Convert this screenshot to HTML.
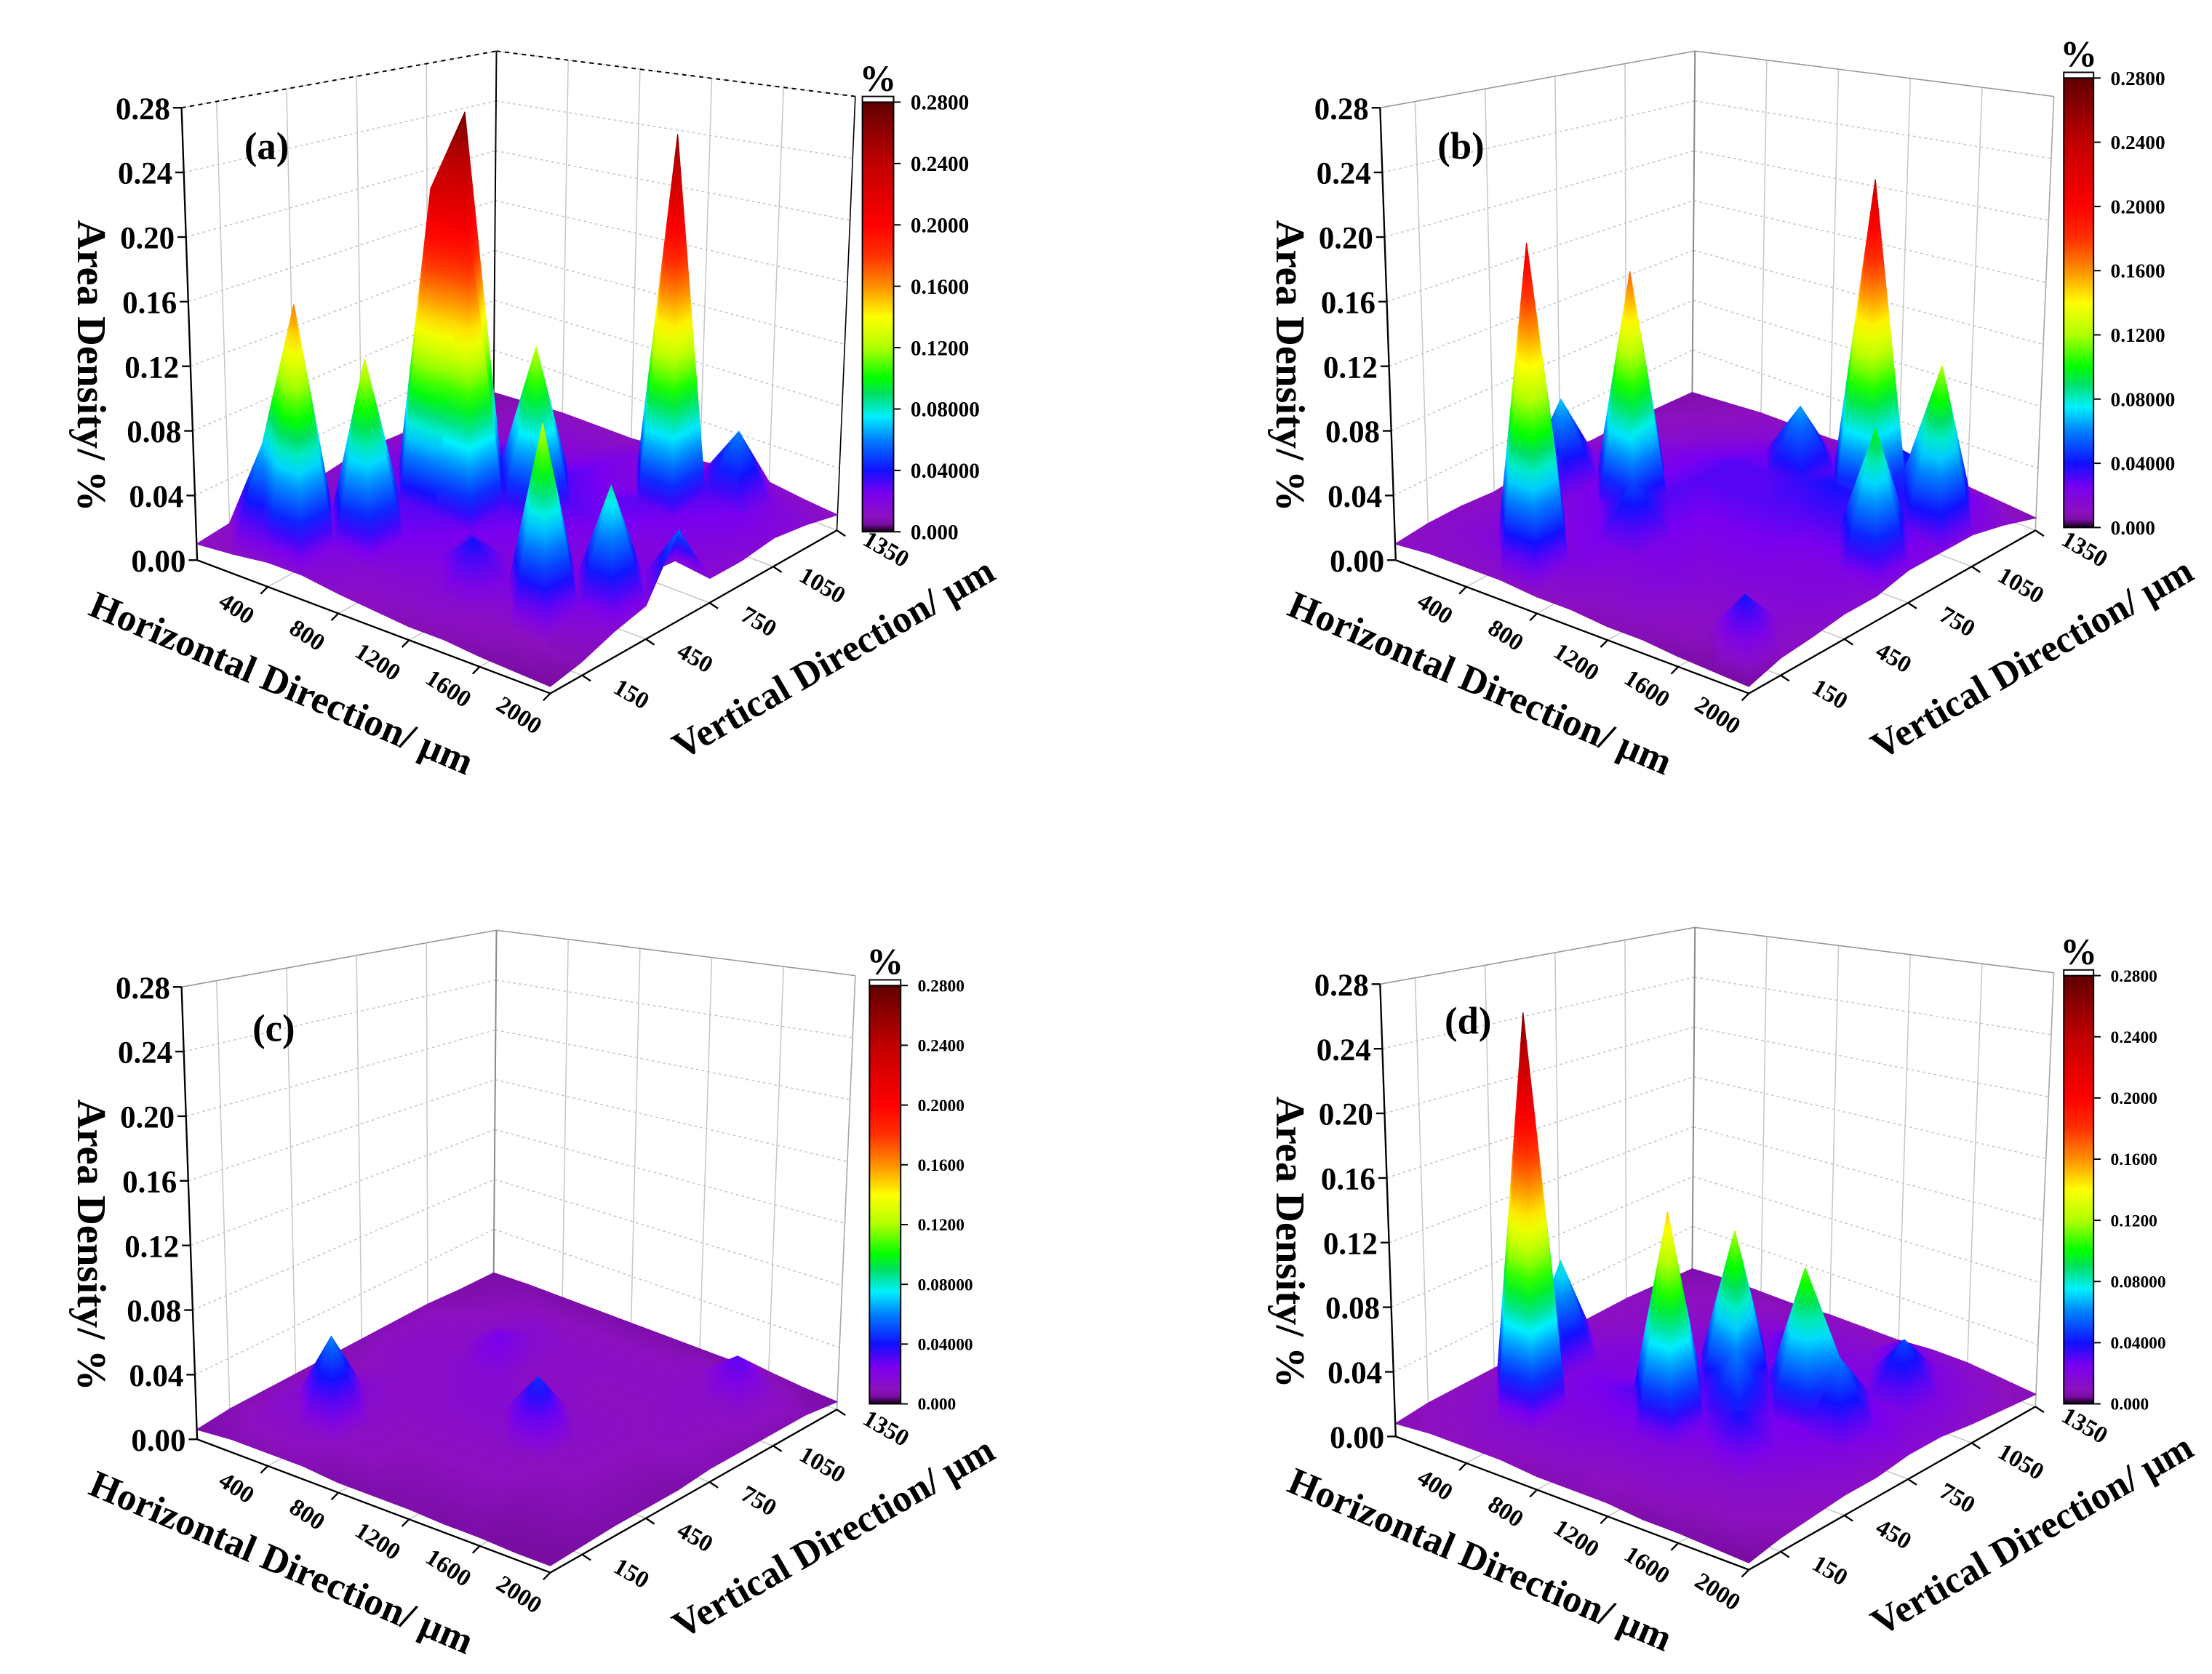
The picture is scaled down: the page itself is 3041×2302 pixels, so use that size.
<!DOCTYPE html>
<html><head><meta charset="utf-8"><style>
html,body{margin:0;padding:0;background:#fff;}
svg{display:block;}
text{font-family:"Liberation Serif",serif;font-weight:bold;fill:#000;}
</style></head><body>
<svg id="chart" xmlns="http://www.w3.org/2000/svg" width="3041" height="2302" viewBox="0 0 1559.5 1180.5">
<defs id="defs"></defs>
<rect x="0" y="0" width="1559.5" height="1180.5" fill="#fff"/>
</svg>
<script>
const hVals=[0,200,400,600,800,1000,1200,1400,1600,1800,2000];
const vVals=[0,150,300,450,600,750,900,1050,1200,1350];
const zTicks=[0,0.04,0.08,0.12,0.16,0.20,0.24,0.28];
const zTickLabels=["0.00","0.04","0.08","0.12","0.16","0.20","0.24","0.28"];
const hTicks=[400,800,1200,1600,2000];
const vTicks=[150,450,750,1050,1350];
const cbTicks=[0,0.04,0.08,0.12,0.16,0.20,0.24,0.28];
const cbTickLabels=["0.000","0.04000","0.08000","0.1200","0.1600","0.2000","0.2400","0.2800"];
const dataA=[
[.010,.012,.015,.010,.012,.015,.012,.010,.008,.006],
[.012,.070,.020,.015,.018,.020,.015,.012,.010,.008],
[.015,.165,.025,.020,.025,.030,.020,.015,.012,.010],
[.015,.020,.130,.030,.225,.270,.030,.020,.015,.010],
[.012,.015,.025,.030,.215,.040,.025,.020,.015,.010],
[.010,.015,.020,.025,.030,.125,.030,.025,.020,.012],
[.008,.015,.040,.020,.025,.030,.025,.020,.018,.012],
[.008,.012,.020,.018,.020,.025,.030,.260,.025,.015],
[.006,.010,.125,.020,.018,.020,.025,.030,.060,.015],
[.005,.010,.020,.085,.020,.018,.020,.025,.020,.012],
[.004,.008,.015,.020,.055,.015,.015,.018,.015,.010]];
const dataB=[
[.010,.012,.012,.010,.012,.012,.010,.010,.008,.006],
[.012,.015,.015,.015,.070,.020,.015,.012,.010,.008],
[.012,.018,.020,.020,.025,.025,.020,.015,.012,.010],
[.012,.210,.020,.025,.170,.025,.025,.020,.015,.010],
[.010,.020,.025,.050,.030,.030,.030,.025,.015,.010],
[.010,.015,.020,.025,.025,.030,.030,.065,.020,.012],
[.008,.015,.020,.020,.025,.030,.035,.030,.025,.012],
[.008,.012,.015,.020,.025,.030,.040,.230,.040,.015],
[.006,.012,.015,.018,.020,.030,.035,.045,.035,.012],
[.005,.040,.015,.018,.020,.100,.030,.120,.025,.010],
[.004,.010,.012,.015,.015,.020,.020,.020,.015,.008]];
const dataC=[
[.006,.008,.008,.008,.008,.008,.008,.008,.006,.005],
[.008,.012,.015,.012,.010,.012,.012,.010,.008,.006],
[.008,.012,.060,.015,.012,.012,.012,.012,.010,.006],
[.008,.010,.012,.012,.012,.015,.025,.015,.010,.006],
[.006,.010,.010,.012,.015,.015,.012,.012,.010,.006],
[.006,.008,.010,.012,.015,.012,.012,.012,.010,.006],
[.006,.008,.010,.012,.045,.012,.010,.012,.010,.006],
[.005,.008,.010,.010,.012,.012,.010,.012,.012,.006],
[.005,.006,.008,.010,.010,.010,.012,.012,.030,.008],
[.004,.006,.008,.008,.008,.010,.010,.012,.012,.006],
[.004,.005,.006,.006,.006,.008,.008,.008,.008,.005]];
const dataD=[
[.008,.010,.010,.010,.010,.010,.010,.010,.008,.006],
[.010,.012,.015,.015,.080,.015,.012,.012,.010,.008],
[.010,.015,.265,.020,.020,.018,.015,.012,.010,.008],
[.010,.015,.020,.025,.020,.020,.018,.015,.012,.008],
[.008,.015,.020,.030,.025,.025,.020,.020,.015,.010],
[.008,.012,.020,.150,.030,.120,.025,.035,.015,.010],
[.008,.012,.018,.025,.060,.030,.025,.020,.015,.010],
[.006,.012,.015,.040,.025,.110,.025,.020,.030,.012],
[.006,.010,.015,.020,.025,.060,.025,.050,.020,.012],
[.005,.010,.012,.015,.020,.025,.020,.020,.015,.010],
[.004,.008,.010,.012,.012,.015,.015,.012,.010,.008]];

const NS='http://www.w3.org/2000/svg';
const svg=document.getElementById('chart');
const defs=document.getElementById('defs');
const cmV=[0,0.01,0.025,0.04,0.06,0.075,0.09,0.10,0.12,0.14,0.16,0.18,0.20,0.24,0.28];
const cmC=['#6a0a8a','#8c10c0','#7a00f0','#1010ff','#0080ff','#00f0ff','#00e060','#00ff00','#b0ff00','#ffff00','#ff9000','#ff3000','#ff0000','#c00000','#600000'];
function hx(c){return [parseInt(c.substr(1,2),16),parseInt(c.substr(3,2),16),parseInt(c.substr(5,2),16)];}
function cmap(z){
  if(z<=cmV[0])return cmC[0];
  for(let i=1;i<cmV.length;i++){ if(z<=cmV[i]){const t=(z-cmV[i-1])/(cmV[i]-cmV[i-1]);const a=hx(cmC[i-1]),b=hx(cmC[i]);
    return 'rgb('+a.map((x,k)=>Math.round(x+(b[k]-x)*t)).join(',')+')';}}
  return cmC[cmC.length-1];
}
function mk(tag,attrs,parent){const e=document.createElementNS(NS,tag);for(const k in attrs)e.setAttribute(k,attrs[k]);(parent||svg).appendChild(e);return e;}
const Lf=[139,395],Bf=[348,282],Rf=[590,374],Ff=[388,489];
const Lt=[128,76],Bt=[350,36],Rt=[603,68],Ft=[384,148];
const ZMAX=0.28;
function bil(P,Q,R,S,u,v){return [(1-u)*(1-v)*P[0]+(1-u)*v*Q[0]+u*v*R[0]+u*(1-v)*S[0],(1-u)*(1-v)*P[1]+(1-u)*v*Q[1]+u*v*R[1]+u*(1-v)*S[1]];}
function makeProj(dx,dy){return function(h,vv,z){const u=h/2000,v=vv/1350;const f=bil(Lf,Bf,Rf,Ff,u,v),t=bil(Lt,Bt,Rt,Ft,u,v);const s=z/ZMAX;return [f[0]+s*(t[0]-f[0])+dx,f[1]+s*(t[1]-f[1])+dy];};}
let gid=0;
function tri(g,P,Z){
  const zmin=Math.min(...Z),zmax=Math.max(...Z);
  const pts=P.map(p=>p[0].toFixed(2)+','+p[1].toFixed(2)).join(' ');
  let fill;
  const dx1=P[1][0]-P[0][0],dy1=P[1][1]-P[0][1],dx2=P[2][0]-P[0][0],dy2=P[2][1]-P[0][1];
  const det=dx1*dy2-dx2*dy1;
  if(zmax-zmin<0.002||Math.abs(det)<1e-6){fill=cmap((Z[0]+Z[1]+Z[2])/3);}
  else{
    const dz1=Z[1]-Z[0],dz2=Z[2]-Z[0];
    const a=(dz1*dy2-dz2*dy1)/det,b=(dx1*dz2-dx2*dz1)/det;const g2=a*a+b*b;
    const s=[P[0][0]+(zmin-Z[0])*a/g2,P[0][1]+(zmin-Z[0])*b/g2],e=[P[0][0]+(zmax-Z[0])*a/g2,P[0][1]+(zmax-Z[0])*b/g2];
    const id='g'+(gid++);
    const lg=mk('linearGradient',{id:id,gradientUnits:'userSpaceOnUse',x1:s[0],y1:s[1],x2:e[0],y2:e[1]},defs);
    const n=Math.max(2,Math.ceil((zmax-zmin)/0.01));
    for(let k=0;k<=n;k++){mk('stop',{offset:k/n,'stop-color':cmap(zmin+(zmax-zmin)*k/n)},lg);}
    fill='url(#'+id+')';
  }
  const el=mk('polygon',{points:pts,fill:fill,stroke:fill,'stroke-width':0.6,'stroke-linejoin':'round'},g);
  
  
}
const panels=[
 {id:'a',dx:0,dy:0,data:dataA,cb:[608,630,72,375,15],dashed:true,lab:[188,103]},
 {id:'b',dx:845,dy:0,data:dataB,cb:[1455,1476,55,372,14],dashed:false,lab:[1030,103]},
 {id:'c',dx:0,dy:620,data:dataC,cb:[613,635,695,990,12],dashed:false,lab:[193,725]},
 {id:'d',dx:845,dy:618,data:dataD,cb:[1455,1476,688,990,12],dashed:false,lab:[1035,720]}
];
panels.forEach(p=>{
  const pr=makeProj(p.dx,p.dy);
  const g=mk('g',{});
  
  
  const grid=mk('g',{stroke:'#c8c8c8','stroke-width':0.8,fill:'none'},g);
  
  
  function line(par,a,b,attrs){const l=mk('line',Object.assign({x1:a[0],y1:a[1],x2:b[0],y2:b[1]},attrs||{}),par);return l;}
  zTicks.forEach(z=>{if(z>0){line(grid,pr(0,0,z),pr(0,1350,z),{'stroke-dasharray':'2,2'});line(grid,pr(0,1350,z),pr(2000,1350,z),{'stroke-dasharray':'2,2'});}});
  vTicks.forEach(v=>{line(grid,pr(0,v,0),pr(0,v,ZMAX));line(grid,pr(0,v,0),pr(2000,v,0));});
  hTicks.forEach(h=>{line(grid,pr(h,1350,0),pr(h,1350,ZMAX));line(grid,pr(h,0,0),pr(h,1350,0));});
  const edge=p.dashed?{stroke:'#000','stroke-width':1,'stroke-dasharray':'3,3'}:{stroke:'#999','stroke-width':0.8};
  line(g,pr(0,0,ZMAX),pr(0,1350,ZMAX),edge);
  line(g,pr(0,1350,ZMAX),pr(2000,1350,ZMAX),edge);
  line(g,pr(0,1350,0),pr(0,1350,ZMAX),{stroke:p.dashed?'#000':'#888','stroke-width':1});
  line(g,pr(2000,1350,0),pr(2000,1350,ZMAX),{stroke:p.dashed?'#000':'#aaa','stroke-width':0.8});
  const surf=mk('g',{},g);
  
  
  const cells=[];
  for(let i=0;i<hVals.length-1;i++)for(let j=0;j<vVals.length-1;j++)cells.push([i,j,(i+0.5)/10-(j+0.5)/9]);
  cells.sort((a,b)=>a[2]-b[2]);
  const D=p.data;
  cells.forEach(([i,j])=>{
    const c00=[hVals[i],vVals[j],D[i][j]],c10=[hVals[i+1],vVals[j],D[i+1][j]],c11=[hVals[i+1],vVals[j+1],D[i+1][j+1]],c01=[hVals[i],vVals[j+1],D[i][j+1]];
    const T1=[c00,c10,c01],T2=[c10,c11,c01];
    [T1,T2].forEach(T=>tri(surf,T.map(c=>pr(c[0],c[1],c[2])),T.map(c=>c[2])));
  });
  const ax=mk('g',{stroke:'#000','stroke-width':1.2},g);
  
  
  line(ax,pr(0,0,0),pr(0,0,ZMAX));
  line(ax,pr(0,0,0),pr(2000,0,0));
  line(ax,pr(2000,0,0),pr(2000,1350,0));
  zTicks.forEach((z,k)=>{const a=pr(0,0,z);line(ax,a,[a[0]-6,a[1]]);
    const t=mk('text',{x:a[0]-8,y:a[1]+8,'text-anchor':'end','font-size':22},g);t.textContent=zTickLabels[k];
    });
  hTicks.forEach(h=>{const a=pr(h,0,0);line(ax,a,[a[0]-5,a[1]+5]);
    const t=mk('text',{x:0,y:0,'text-anchor':'middle','font-size':17,transform:'translate('+(a[0]-25)+','+(a[1]+20)+') rotate(33)'},g);t.textContent=h;
    });
  vTicks.forEach(v=>{const a=pr(2000,v,0);line(ax,a,[a[0]+6,a[1]+4]);
    const t=mk('text',{x:0,y:0,'text-anchor':'middle','font-size':17,transform:'translate('+(a[0]+32)+','+(a[1]+18)+') rotate(30)'},g);t.textContent=v;
    });
  let t=mk('text',{x:0,y:0,'text-anchor':'middle','font-size':27,transform:'translate('+(195+p.dx)+','+(490+p.dy)+') rotate(23)'},g);
  t.textContent='Horizontal Direction/ μm';
  t=mk('text',{x:0,y:0,'text-anchor':'middle','font-size':27,transform:'translate('+(592+p.dx)+','+(472+p.dy)+') rotate(-30)'},g);
  t.textContent='Vertical Direction/ μm';
  t=mk('text',{x:0,y:0,'text-anchor':'middle','font-size':29,transform:'translate('+(55+p.dx)+','+(258+p.dy)+') rotate(90)'},g);
  t.textContent='Area Density/ %';
  t=mk('text',{x:p.lab[0],y:p.lab[1]+9,'text-anchor':'middle','font-size':27},g);
  t.textContent='('+p.id+')';
  const [x0,x1,y0,y1,fs]=p.cb;
  const cid='cb'+p.id;
  const lg=mk('linearGradient',{id:cid,x1:0,y1:1,x2:0,y2:0},defs);
  for(let k=0;k<=56;k++){const z=ZMAX*k/56;mk('stop',{offset:k/56,'stop-color':k===0?'#100010':cmap(z)},lg);}
  const cb=mk('rect',{x:x0,y:y0,width:x1-x0,height:y1-y0,fill:'url(#'+cid+')',stroke:'#000','stroke-width':1},g);
  
  mk('rect',{x:x0,y:y0-4,width:x1-x0,height:4,fill:'#fff',stroke:'#000','stroke-width':1},g);
  cbTicks.forEach((z,k)=>{const y=y1-(y1-y0)*z/ZMAX;line(g,[x1,y],[x1+5,y],{stroke:'#000','stroke-width':1});
    const tt=mk('text',{x:x1+12,y:y+fs*0.35,'font-size':fs},g);tt.textContent=cbTickLabels[k];
    });
  t=mk('text',{x:(x0+x1)/2,y:y0-8,'text-anchor':'middle','font-size':26},g);
  t.textContent='%';
});
</script>
</body></html>
